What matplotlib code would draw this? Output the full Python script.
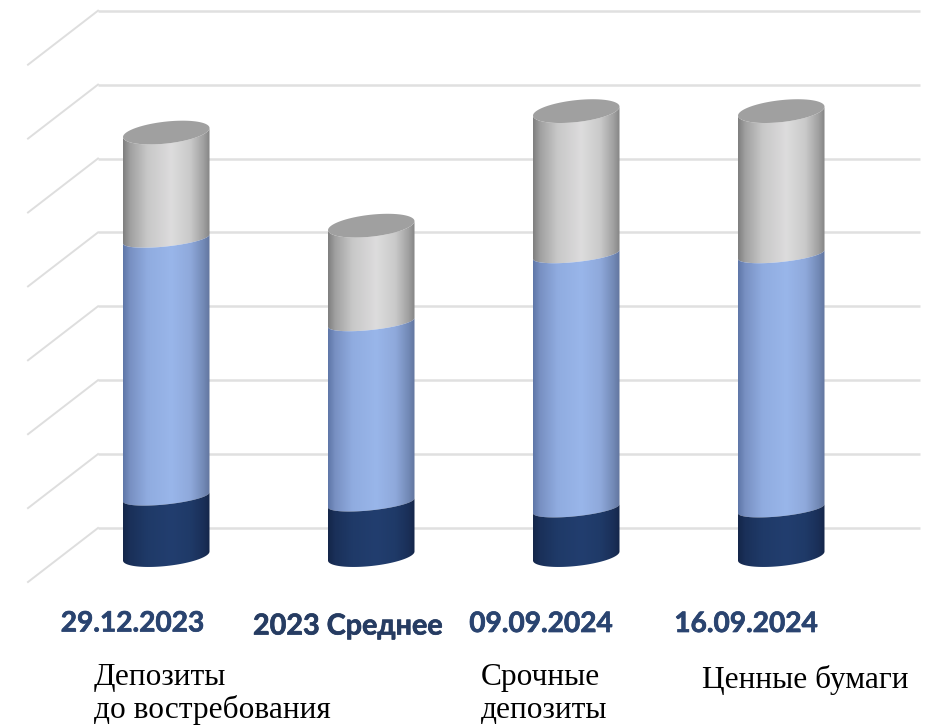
import numpy as np
import matplotlib
matplotlib.use("Agg")
import matplotlib.pyplot as plt
import matplotlib.patheffects as pe
from matplotlib.patches import Polygon
from matplotlib.colors import LinearSegmentedColormap

dates = ["29.12.2023", "2023 Среднее", "09.09.2024", "16.09.2024"]
demand = [8.0, 7.2, 6.4, 6.4]
term = [34.9, 24.4, 34.4, 34.4]
securities = [14.4, 13.1, 19.4, 19.4]
grid_values = [0, 10, 20, 30, 40, 50, 60, 70]

W, H = 931, 725
PX_X = 205.0      # pixels per category
PX_Y = 7.39       # pixels per value unit
X0 = 166.25       # pixel of category 0
Y0 = 528.0        # pixel of value 0 on the back wall

stops = [0, 0.08, 0.28, 0.56, 0.78, 0.93, 1]
shades = {
    "demand": ["#14264a", "#1a3059", "#1f3a68", "#223e6f", "#1f3a68", "#1a2f58", "#14264a"],
    "term": ["#5f77a8", "#7890c2", "#90ace0", "#99b6ea", "#8fa9db", "#7289b6", "#62769f"],
    "securities": ["#7f7f7f", "#a0a0a0", "#c8c8c8", "#dddcdd", "#c9c9c9", "#a0a0a0", "#858585"],
}
top_color = "#a0a0a0"

plt.rcParams["font.family"] = ["Lato", "DejaVu Sans"]
fig = plt.figure(figsize=(W / 100, H / 100), dpi=100)
ax = fig.add_axes([0, 0, 1, 1])
ax.axis("off")

half_w = 43.25 / PX_X
depth_y = 28.0 / PX_Y    # bars stand halfway into the floor
tilt = 4.5 / PX_Y


def arc(x, y, bulge, t):
    return x + half_w * np.cos(t), y + tilt * np.cos(t) + bulge / PX_Y * np.sin(t)


def segment(x, y0, y1, shade, b0, b1, z):
    t = np.linspace(0, np.pi, 60)
    xa, ya = arc(x, y0 - depth_y, b0, -t)
    xb, yb = arc(x, y1 - depth_y, b1, -t)
    pts = np.column_stack([np.r_[xa, xb[::-1]], np.r_[ya, yb[::-1]]])
    poly = Polygon(pts, closed=True, fc="none", ec="none", transform=ax.transData)
    ax.add_patch(poly)
    cmap = LinearSegmentedColormap.from_list(shade, list(zip(stops, shades[shade])))
    im = ax.imshow(np.linspace(0, 1, 128).reshape(1, -1), cmap=cmap, aspect="auto", zorder=z,
                   extent=[x - half_w, x + half_w, y0 - depth_y - 3, y1 - depth_y + 3],
                   interpolation="bilinear")
    im.set_clip_path(poly)


# back wall and side wall grid
wall_x = (98 - X0) / PX_X
ax.hlines(grid_values, wall_x, (920 - X0) / PX_X, color="#e0e0e0", lw=1.8, zorder=1)
for v in grid_values:
    ax.plot([wall_x, (28 - X0) / PX_X], [v, v - 54 / PX_Y], color="#dedede", lw=1.4, zorder=1)

for i in range(len(dates)):
    a = demand[i]
    b = a + term[i]
    c = b + securities[i]
    segment(i, 0, a, "demand", 10, 7.5, 3)
    segment(i, a, b, "term", 7.5, 7.5, 2.9)
    segment(i, b, c, "securities", 7.5, 11, 2.8)
    t = np.linspace(0, 2 * np.pi, 100)
    xe, ye = arc(i, c - depth_y, 11, t)
    ax.fill(xe, ye, color=top_color, lw=0, zorder=3.5)

ax.set_xlim(-X0 / PX_X, (W - X0) / PX_X)
ax.set_ylim((Y0 - H) / PX_Y, Y0 / PX_Y)

# date labels, offsets are by hand as in the source slide
date_pos = [(132.5, 623.5), (348, 626.5), (541, 624), (746, 624)]
date_cols = ["#2a4470", "#263c62", "#2a4470", "#2a4470"]
date_size = [20.2, 20.7, 20.2, 20.2]
for s, (px, py), col, size in zip(dates, date_pos, date_cols, date_size):
    txt = fig.text(px / W, 1 - py / H, s, color=col, fontsize=size, fontweight="bold", ha="center", va="center")
    txt.set_path_effects([pe.withStroke(linewidth=0.5, foreground=col)])

serif = ["Liberation Serif", "DejaVu Serif"]
legend_items = [("Депозиты\nдо востребования", 94, 685), ("Срочные\nдепозиты", 481, 685), ("Ценные бумаги", 702, 688)]
for s, px, py in legend_items:
    for j, line in enumerate(s.split("\n")):
        fig.text(px / W, 1 - (py + 33 * j) / H, line, color="black", fontsize=22.6, family=serif,
                 ha="left", va="baseline")

fig.savefig("out.png", dpi=100)
